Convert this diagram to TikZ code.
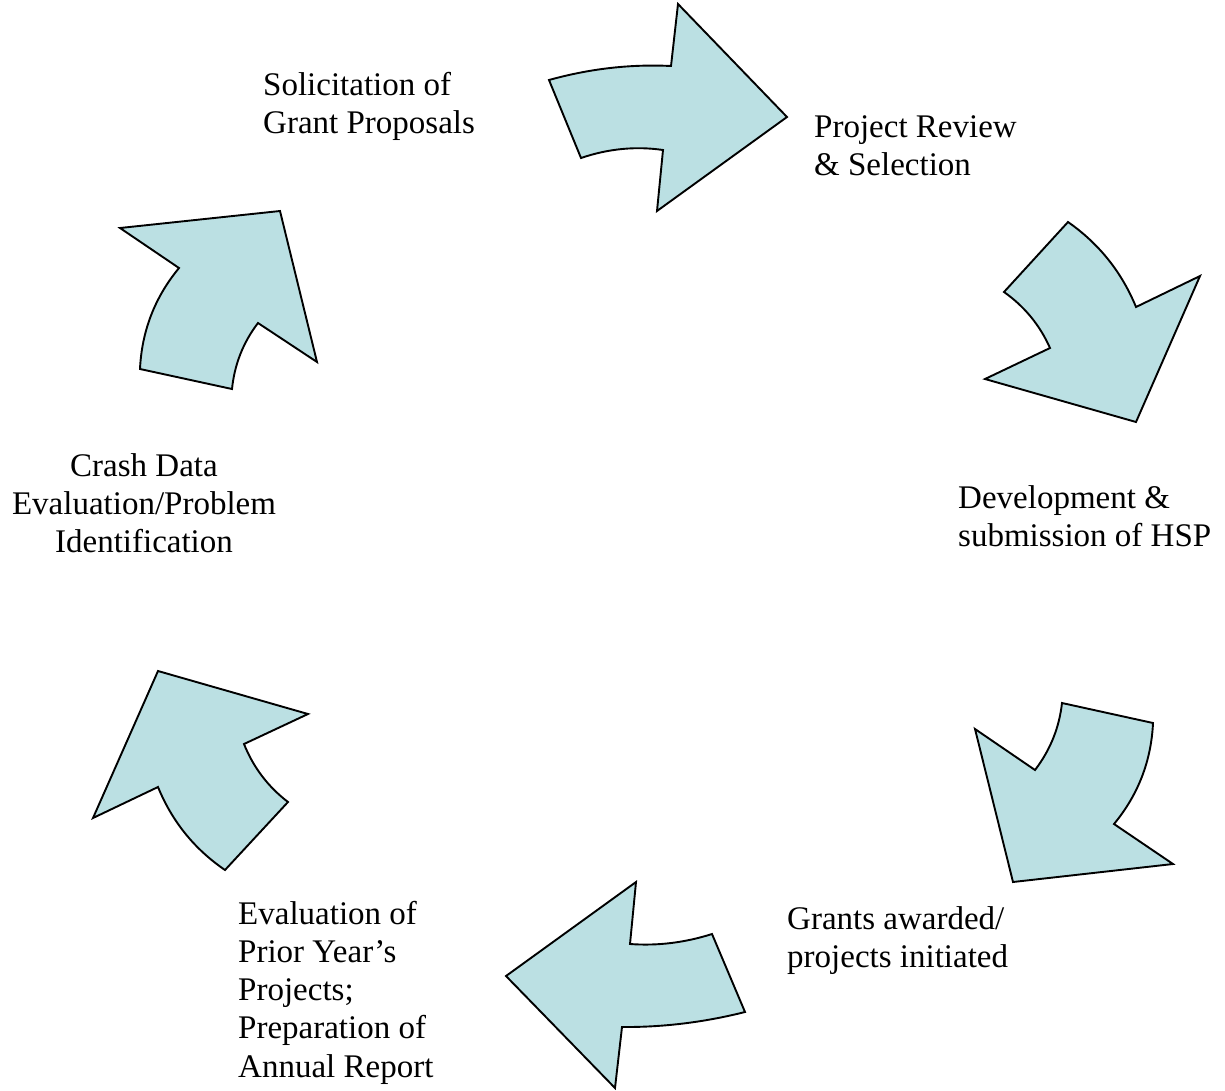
\documentclass[tikz,border=0pt]{standalone}
\usepackage{fontspec}
\setmainfont{Liberation Serif}
\definecolor{arrowfill}{HTML}{BBE0E3}
\tikzset{
  cyclearrow/.style={draw=black, fill=arrowfill, line width=1.9pt, line join=miter},
  lbl/.style={inner sep=0pt, anchor=base west, font=\fontsize{33}{38.3}\selectfont},
  lblc/.style={inner sep=0pt, anchor=base, font=\fontsize{33}{38.3}\selectfont}
}
\newcommand{\lines}[2][l]{\begin{tabular}[t]{@{}#1@{}}#2\end{tabular}}
\begin{document}
\begin{tikzpicture}[x=1pt,y=-1pt]
\useasboundingbox (0,0) rectangle (1225,1090);
% arrow 1 (top)
\draw[cyclearrow] (549,80) .. controls (589.7,68.7) and (630.3,64) .. (671,66) -- (678,4) -- (787,117) -- (657,211) -- (663,150) .. controls (635.7,146) and (608.3,148.7) .. (581,158) -- cycle;
% arrow 2 (upper right)
\draw[cyclearrow] (1068,222) .. controls (1099,243.7) and (1121.7,272.1) .. (1136,307) -- (1200,276) -- (1136,422) -- (985,379) -- (1050,348) .. controls (1039.8,325.1) and (1024.5,306.5) .. (1004,292) -- cycle;
% arrow 3 (lower right)
\draw[cyclearrow] (1062,703) -- (1153,723) .. controls (1151.2,761) and (1138.2,794.7) .. (1114,824) -- (1173,864) -- (1013,882) -- (975,729) -- (1035,770) .. controls (1050.2,750.1) and (1059.2,727.8) .. (1062,703) -- cycle;
% arrow 4 (bottom)
\draw[cyclearrow] (506,976) -- (636,882) -- (630,944) .. controls (657.3,946) and (684.7,942.7) .. (712,934) -- (745,1012) .. controls (704,1022.3) and (663,1027.3) .. (622,1027) -- (615,1088) -- cycle;
% arrow 5 (lower left)
\draw[cyclearrow] (158,671) -- (308,714) -- (244,744) .. controls (253.3,767.3) and (268,786.7) .. (288,802) -- (225,870) .. controls (194.3,849) and (172,821.3) .. (158,787) -- (93,818) -- cycle;
% arrow 6 (upper left)
\draw[cyclearrow] (120,228) -- (280,211) -- (317,362) -- (258,323) .. controls (243.1,342.5) and (234.5,364.5) .. (232,389) -- (140,369) .. controls (141.8,331) and (154.8,297.3) .. (179,268) -- cycle;
% labels
\node[lbl] (sol) at (263,95) {\lines{Solicitation of\\Grant Proposals}};
\node[lbl] (rev) at (814,137) {\lines{Project Review\\\& Selection}};
\node[lbl] (dev) at (958,508) {\lines{Development \&\\submission of HSP}};
\node[lbl] (gra) at (787,929) {\lines{Grants awarded/\\projects initiated}};
\node[lbl] (eva) at (238,924) {\lines{Evaluation of\\Prior Year’s\\Projects;\\Preparation of\\Annual Report}};
\node[lblc] (cra) at (144,476) {\lines[c]{Crash Data\\Evaluation/Problem\\Identification}};
\end{tikzpicture}
\end{document}
